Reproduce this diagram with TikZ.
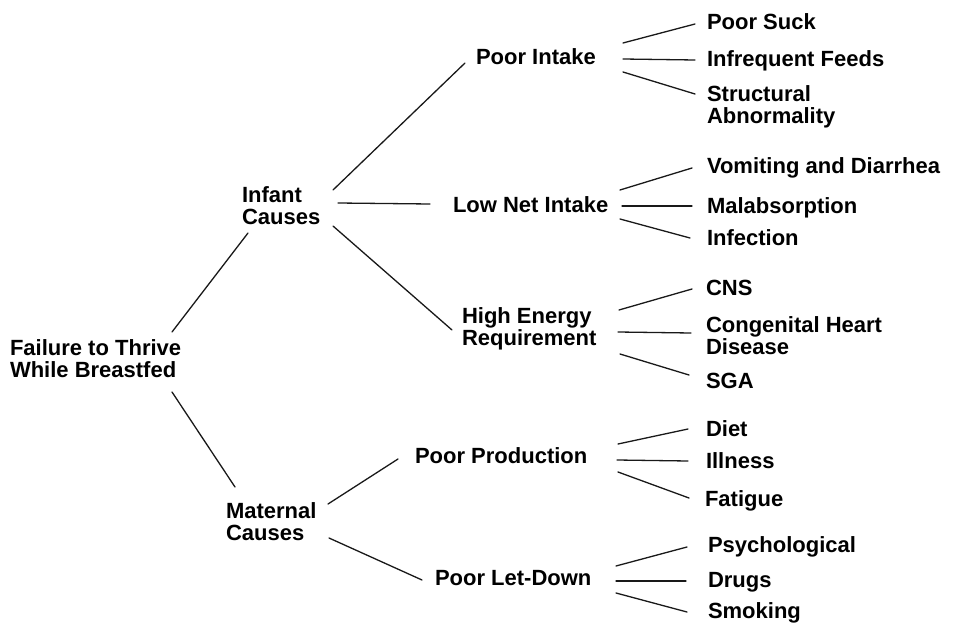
\documentclass[tikz,border=0pt]{standalone}
\usepackage{fontspec}
\setmainfont{Liberation Sans}
\newcommand{\twolines}[2]{\vtop{\hbox{#1}\hbox{#2}}}
\begin{document}
\begin{tikzpicture}[x=1pt,y=-1pt,
  label/.style={anchor=base west,inner sep=0pt,outer sep=0pt,
    font=\fontsize{22}{22}\selectfont\bfseries,text=black},
  link/.style={draw=black!90,line width=1.3pt,line cap=round}]
\useasboundingbox[fill=white] (0,0) rectangle (956,623);

% root and first level
\node[label] (ftt) at (10,355) {\twolines{Failure to Thrive}{While Breastfed}};
\node[label] (inf) at (242,202) {\twolines{Infant}{Causes}};
\node[label] (mat) at (226,518) {\twolines{Maternal}{Causes}};

% second level
\node[label] (pi)  at (476,65)  {Poor Intake};
\node[label] (lni) at (453,212) {Low Net Intake};
\node[label] (her) at (462,323) {\twolines{High Energy}{Requirement}};
\node[label] (pp)  at (415,463) {Poor Production};
\node[label] (pld) at (435,585) {Poor Let-Down};

% leaves
\node[label] (ps)   at (707,30)  {Poor Suck};
\node[label] (ifd)  at (707,67)  {Infrequent Feeds};
\node[label] (sa)   at (707,102) {\twolines{Structural}{Abnormality}};
\node[label] (vd)   at (707,174) {Vomiting and Diarrhea};
\node[label] (ma)   at (707,213) {Malabsorption};
\node[label] (inn)  at (707,245) {Infection};
\node[label] (cns)  at (706,295) {CNS};
\node[label] (chd)  at (706,332) {\twolines{Congenital Heart}{Disease}};
\node[label] (sga)  at (706,388) {SGA};
\node[label] (diet) at (706,436) {Diet};
\node[label] (ill)  at (706,468) {Illness};
\node[label] (fat)  at (705,506) {Fatigue};
\node[label] (psy)  at (708,552) {Psychological};
\node[label] (dru)  at (708,587) {Drugs};
\node[label] (smo)  at (708,618) {Smoking};

% connectors, offset from each label's base point
\draw[link] ([shift={(162,-23)}]ftt.base west) -- ([shift={(6,31)}]inf.base west);
\draw[link] ([shift={(162,37)}]ftt.base west) -- ([shift={(9,-31)}]mat.base west);

\draw[link] ([shift={(91,-12)}]inf.base west) -- ([shift={(-11,-2)}]pi.base west);
\draw[link] ([shift={(96,1)}]inf.base west) -- ([shift={(-23,-8)}]lni.base west);
\draw[link] ([shift={(91,24)}]inf.base west) -- ([shift={(-10,7)}]her.base west);
\draw[link] ([shift={(102,-14)}]mat.base west) -- ([shift={(-17,-4)}]pp.base west);
\draw[link] ([shift={(103,20)}]mat.base west) -- ([shift={(-13,-5)}]pld.base west);

\draw[link] ([shift={(147,-22)}]pi.base west) -- ([shift={(-12,-6)}]ps.base west);
\draw[link] ([shift={(147,-6)}]pi.base west) -- ([shift={(-12,-7)}]ifd.base west);
\draw[link] ([shift={(147,7)}]pi.base west) -- ([shift={(-12,-8)}]sa.base west);

\draw[link] ([shift={(167,-22)}]lni.base west) -- ([shift={(-15,-6)}]vd.base west);
\draw[link] ([shift={(169,-6)}]lni.base west) -- ([shift={(-15,-7)}]ma.base west);
\draw[link] ([shift={(167,7)}]lni.base west) -- ([shift={(-17,-7)}]inn.base west);

\draw[link] ([shift={(157,-13)}]her.base west) -- ([shift={(-14,-6)}]cns.base west);
\draw[link] ([shift={(156,9)}]her.base west) -- ([shift={(-15,1)}]chd.base west);
\draw[link] ([shift={(158,31)}]her.base west) -- ([shift={(-17,-13)}]sga.base west);

\draw[link] ([shift={(203,-19)}]pp.base west) -- ([shift={(-18,-7)}]diet.base west);
\draw[link] ([shift={(202,-3)}]pp.base west) -- ([shift={(-18,-7)}]ill.base west);
\draw[link] ([shift={(203,9)}]pp.base west) -- ([shift={(-16,-8)}]fat.base west);

\draw[link] ([shift={(181,-19)}]pld.base west) -- ([shift={(-21,-5)}]psy.base west);
\draw[link] ([shift={(181,-4)}]pld.base west) -- ([shift={(-22,-6)}]dru.base west);
\draw[link] ([shift={(181,8)}]pld.base west) -- ([shift={(-21,-6)}]smo.base west);
\end{tikzpicture}
\end{document}
